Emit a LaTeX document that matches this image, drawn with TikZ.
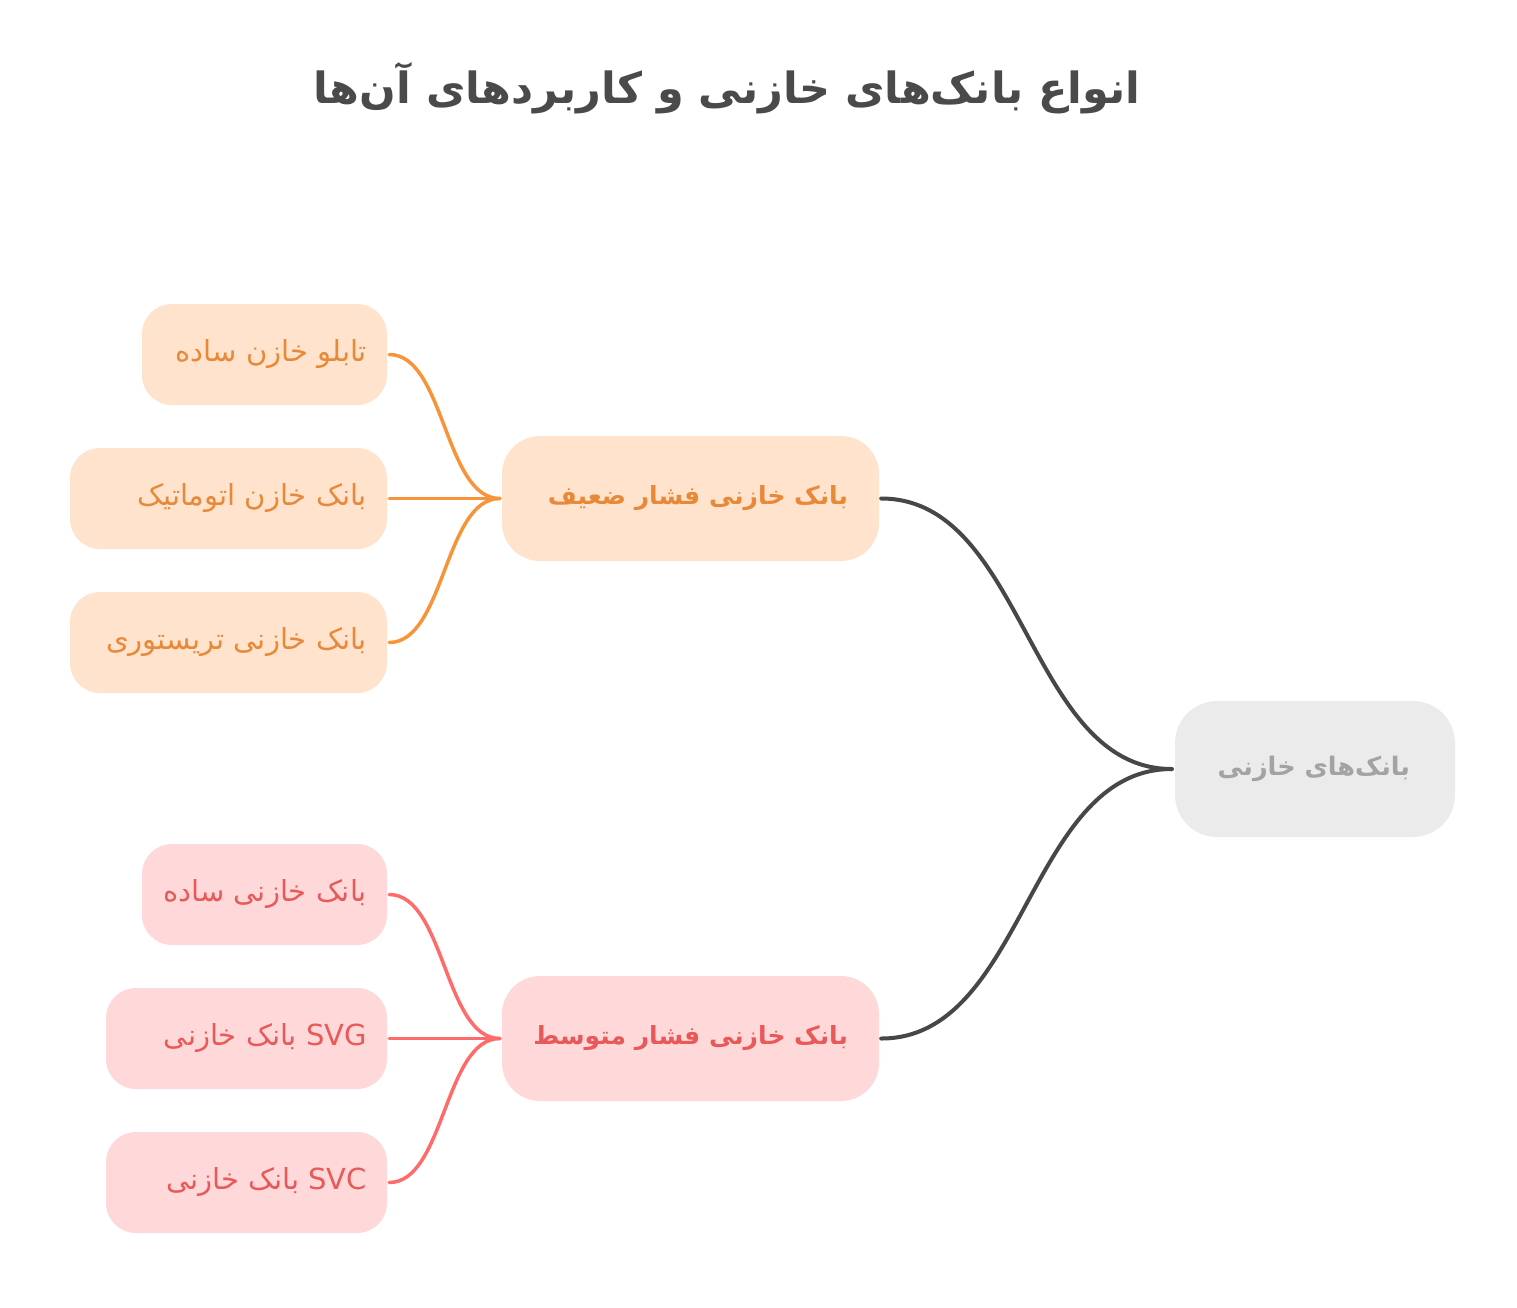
\documentclass[tikz,border=0pt]{standalone}
\usepackage{fontspec}
\TeXXeTstate=1
\newfontfamily\arabicfont[Script=Arabic]{DejaVu Sans}
\definecolor{darkline}{HTML}{474747}
\definecolor{rootfill}{HTML}{EBEBEB}
\definecolor{roottext}{HTML}{A3A3A3}
\definecolor{orfill}{HTML}{FFE3CC}
\definecolor{ortext}{HTML}{E8893A}
\definecolor{orline}{HTML}{F7943A}
\definecolor{rdfill}{HTML}{FFD9D9}
\definecolor{rdtext}{HTML}{E85A5A}
\definecolor{rdline}{HTML}{FF6B6B}
\definecolor{titlec}{HTML}{4A4A4A}
\tikzset{
  box/.style={inner ysep=0pt, inner xsep=20pt},
  leafO/.style={box, fill=orfill, text=ortext, rounded corners=30pt, minimum height=101pt, font=\arabicfont\fontsize{29}{34}\selectfont},
  leafR/.style={box, fill=rdfill, text=rdtext, rounded corners=30pt, minimum height=101pt, font=\arabicfont\fontsize{29}{34}\selectfont},
  midO/.style={box, fill=orfill, text=ortext, rounded corners=38pt, minimum height=125pt, inner xsep=31pt, font=\arabicfont\bfseries\fontsize{25}{30}\selectfont},
  midR/.style={box, fill=rdfill, text=rdtext, rounded corners=38pt, minimum height=125pt, inner xsep=31pt, font=\arabicfont\bfseries\fontsize{25}{30}\selectfont},
  rootbox/.style={box, fill=rootfill, text=roottext, rounded corners=42pt, minimum height=136pt, inner xsep=45pt, font=\arabicfont\bfseries\fontsize{25.5}{30}\selectfont},
  conD/.style={draw=darkline, line width=4pt, line cap=round},
  conO/.style={draw=orline, line width=3.5pt, line cap=round},
  conR/.style={draw=rdline, line width=3.5pt, line cap=round},
}
\begin{document}
\begin{tikzpicture}[x=1pt,y=-1pt]
\useasboundingbox (0,0) rectangle (1517,1307);
\node[text=titlec, font=\arabicfont\bfseries\fontsize{43}{50}\selectfont] (title) at (727,88) {\beginR انواع بانک‌های خازنی و کاربردهای آن‌ها\endR};

\node[rootbox] (root) at (1315,769) {\makebox[190pt][r]{\beginR بانک‌های خازنی\endR}};

\node[midO] (m1) at (690.5,498.5) {\makebox[315pt][r]{\beginR بانک خازنی فشار ضعیف\endR}};
\node[midR] (m2) at (690.5,1038.5) {\makebox[315pt][r]{\beginR بانک خازنی فشار متوسط\endR}};

\node[leafO] (o1) at (264.5,354.5) {\makebox[205pt][r]{\beginR تابلو خازن ساده\endR}};
\node[leafO] (o2) at (228.5,498.5) {\makebox[277pt][r]{\beginR بانک خازن اتوماتیک\endR}};
\node[leafO] (o3) at (228.5,642.5) {\makebox[277pt][r]{\beginR بانک خازنی تریستوری\endR}};

\node[leafR] (r1) at (264.5,894.5) {\makebox[205pt][r]{\beginR بانک خازنی ساده\endR}};
\node[leafR] (r2) at (246.5,1038.5) {\makebox[241pt][r]{\beginR\beginL SVG\endL{} بانک خازنی\endR}};
\node[leafR] (r3) at (246.5,1182.5) {\makebox[241pt][r]{\beginR\beginL SVC\endL{} بانک خازنی\endR}};

\draw[conD] ([xshift=-3pt]root.west) to[out=180,in=0,looseness=0.93] ([xshift=2pt]m1.east);
\draw[conD] ([xshift=-3pt]root.west) to[out=180,in=0,looseness=0.93] ([xshift=2pt]m2.east);

\draw[conO] ([xshift=-2pt]m1.west) to[out=180,in=0,looseness=0.78] ([xshift=2pt]o1.east);
\draw[conO] ([xshift=-2pt]m1.west) to[out=180,in=0] ([xshift=2pt]o2.east);
\draw[conO] ([xshift=-2pt]m1.west) to[out=180,in=0,looseness=0.78] ([xshift=2pt]o3.east);

\draw[conR] ([xshift=-2pt]m2.west) to[out=180,in=0,looseness=0.78] ([xshift=2pt]r1.east);
\draw[conR] ([xshift=-2pt]m2.west) to[out=180,in=0] ([xshift=2pt]r2.east);
\draw[conR] ([xshift=-2pt]m2.west) to[out=180,in=0,looseness=0.78] ([xshift=2pt]r3.east);
\end{tikzpicture}
\end{document}
